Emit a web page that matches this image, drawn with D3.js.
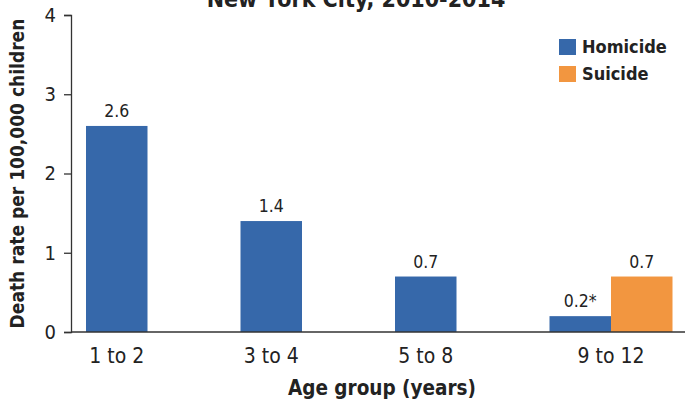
<!DOCTYPE html>
<html>
<head>
<meta charset="utf-8">
<script src="https://cdn.jsdelivr.net/npm/d3@7"></script>
<style>
  html, body { margin: 0; padding: 0; background: #fff; }
  svg { display: block; }
  text { font-family: "DejaVu Sans Condensed", "Liberation Sans Narrow", "DejaVu Sans", sans-serif; font-stretch: condensed; fill: #222; }
</style>
</head>
<body>
<svg id="chart" width="685" height="402"></svg>
<script>
// Child death rates by age group, New York City 2010-2014
const ageGroups = ["1 to 2", "3 to 4", "5 to 8", "9 to 12"];
const seriesNames = ["Homicide", "Suicide"];
const homicide = [2.6, 1.4, 0.7, 0.2];
const suicide = [null, null, null, 0.7];
const homicideLabels = ["2.6", "1.4", "0.7", "0.2*"];
const suicideLabels = [null, null, null, "0.7"];
const yTicks = [0, 1, 2, 3, 4];
const colors = ["#3668aa", "#f29640"];

const svg = d3.select("#chart");
const margin = { left: 71, top: 15, bottom: 70 };
const H = 402;

const y = d3.scaleLinear().domain([0, 4]).range([H - margin.bottom, margin.top]);

// Each age group gets a band holding two side-by-side bars
const x0 = d3.scaleBand().domain(ageGroups).range([86, 672.5])
  .paddingInner(1 - 123 / 154.5).paddingOuter(0).align(0);
const x1 = d3.scaleBand().domain(seriesNames).range([0, x0.bandwidth()]);

const rows = ageGroups.map((g, i) => ({
  group: g,
  bars: [
    { key: "Homicide", value: homicide[i], label: homicideLabels[i] },
    { key: "Suicide", value: suicide[i], label: suicideLabels[i] }
  ].filter(d => d.value != null)
}));

// Title (sits partly above the top edge)
svg.append("text")
  .attr("x", 356).attr("y", 7)
  .attr("text-anchor", "middle")
  .attr("font-size", 23).attr("font-weight", "bold")
  .text("New York City, 2010-2014");

// Bars
const groups = svg.selectAll("g.grp").data(rows).join("g")
  .attr("class", "grp")
  .attr("transform", d => `translate(${x0(d.group)},0)`);

groups.selectAll("rect").data(d => d.bars).join("rect")
  .attr("x", d => x1(d.key))
  .attr("y", d => y(d.value))
  .attr("width", x1.bandwidth())
  .attr("height", d => y(0) - y(d.value))
  .attr("fill", d => colors[seriesNames.indexOf(d.key)]);

groups.selectAll("text.val").data(d => d.bars).join("text")
  .attr("class", "val")
  .attr("x", d => x1(d.key) + x1.bandwidth() / 2)
  .attr("y", d => y(d.value) - 9)
  .attr("text-anchor", "middle")
  .attr("font-size", 17.5)
  .text(d => d.label);

// Category labels centred under the bars that are present
groups.append("text")
  .attr("x", d => d.bars.length * x1.bandwidth() / 2)
  .attr("y", y(0) + 31)
  .attr("text-anchor", "middle")
  .attr("font-size", 21)
  .text(d => d.group);

// Y axis
const yAxis = svg.append("g")
  .attr("transform", `translate(${margin.left},0)`)
  .call(d3.axisLeft(y).tickValues(yTicks).tickFormat(d3.format("d")).tickSize(7).tickPadding(8));
yAxis.select(".domain").attr("stroke", "#333").attr("stroke-width", 1.3);
yAxis.selectAll(".tick line").attr("stroke", "#333").attr("stroke-width", 1.3);
yAxis.selectAll(".tick text")
  .attr("font-size", 20)
  .attr("fill", "#222")
  .style("font-family", "\"DejaVu Sans Condensed\", \"DejaVu Sans\", sans-serif");

// Baseline across the plot
svg.append("line")
  .attr("x1", margin.left).attr("x2", 685)
  .attr("y1", y(0)).attr("y2", y(0))
  .attr("stroke", "#333").attr("stroke-width", 1.3);

// Axis titles
svg.append("text")
  .attr("transform", `translate(24,${(y(0) + y(4)) / 2}) rotate(-90)`)
  .attr("text-anchor", "middle")
  .attr("font-size", 19).attr("font-weight", "bold")
  .text("Death rate per 100,000 children");

svg.append("text")
  .attr("x", 382).attr("y", 395)
  .attr("text-anchor", "middle")
  .attr("font-size", 20.5).attr("font-weight", "bold")
  .text("Age group (years)");

// Legend
const legend = svg.append("g").attr("transform", "translate(559,39)");
const li = legend.selectAll("g").data(seriesNames).join("g")
  .attr("transform", (d, i) => `translate(0,${i * 27})`);
li.append("rect").attr("width", 17).attr("height", 16)
  .attr("fill", (d, i) => colors[i]);
li.append("text").attr("x", 23).attr("y", 14)
  .attr("font-size", 18).attr("font-weight", "bold")
  .text(d => d);
</script>
</body>
</html>
